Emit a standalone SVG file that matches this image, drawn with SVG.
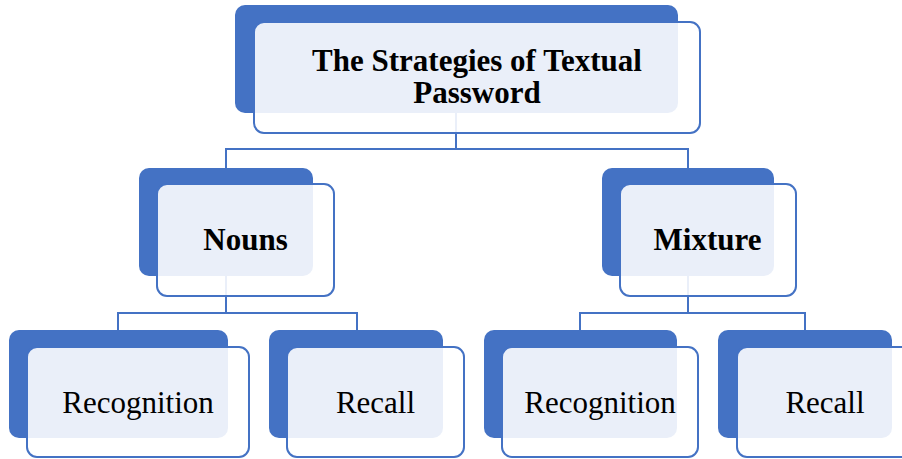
<svg xmlns="http://www.w3.org/2000/svg" width="902" height="459" viewBox="0 0 902 459">
<style>
.back{fill:#4472C4}
.front{fill:#ffffff;fill-opacity:0.89;stroke:#4472C4;stroke-width:2}
.conn{fill:none;stroke:#4472C4;stroke-width:2}
text{font-family:'Liberation Serif','Times New Roman',serif;font-size:31px;fill:#000;text-anchor:middle}
.b{font-weight:bold}
</style>
<rect width="902" height="459" fill="#fff"/>
<g id="connectors">
<path class="conn" d="M456 113 V149 H226 V168 M456 149 H688 V168"/>
<path class="conn" d="M226 276 V313 H118 V330 M226 313 H357 V330"/>
<path class="conn" d="M688 276 V313 H580 V330 M688 313 H805 V330"/>
</g>
<g id="node-root">
<rect class="back" x="235" y="5" width="443" height="108" rx="10"/>
<rect class="front" x="254" y="22" width="446" height="111" rx="10"/>
<text class="b" x="477" y="71" style="font-family:'Liberation Serif',serif">The Strategies of Textual</text>
<text class="b" x="477" y="103" style="font-family:'Liberation Serif',serif">Password</text>
</g>
<g id="node-nouns">
<rect class="back" x="139" y="168" width="174" height="108" rx="10"/>
<rect class="front" x="157" y="184" width="177" height="112" rx="10"/>
<text class="b" x="245.5" y="250" style="font-family:'Liberation Serif',serif">Nouns</text>
</g>
<g id="node-mixture">
<rect class="back" x="602" y="168" width="172" height="108" rx="10"/>
<rect class="front" x="620" y="184" width="176" height="112" rx="10"/>
<text class="b" x="707.5" y="250" style="font-family:'Liberation Serif',serif">Mixture</text>
</g>
<g id="node-recognition-1">
<rect class="back" x="9" y="330" width="219" height="108" rx="10"/>
<rect class="front" x="27" y="347" width="222" height="110" rx="10"/>
<text x="138" y="413" style="font-family:'Liberation Serif',serif">Recognition</text>
</g>
<g id="node-recall-1">
<rect class="back" x="269" y="330" width="174" height="108" rx="10"/>
<rect class="front" x="287" y="347" width="177" height="110" rx="10"/>
<text x="375.5" y="413" style="font-family:'Liberation Serif',serif">Recall</text>
</g>
<g id="node-recognition-2">
<rect class="back" x="484" y="330" width="193" height="108" rx="10"/>
<rect class="front" x="502" y="347" width="196" height="110" rx="10"/>
<text x="600" y="413" style="font-family:'Liberation Serif',serif">Recognition</text>
</g>
<g id="node-recall-2">
<rect class="back" x="718" y="330" width="174" height="108" rx="10"/>
<rect class="front" x="737" y="347" width="177" height="110" rx="10"/>
<text x="825" y="413" style="font-family:'Liberation Serif',serif">Recall</text>
</g>
</svg>
